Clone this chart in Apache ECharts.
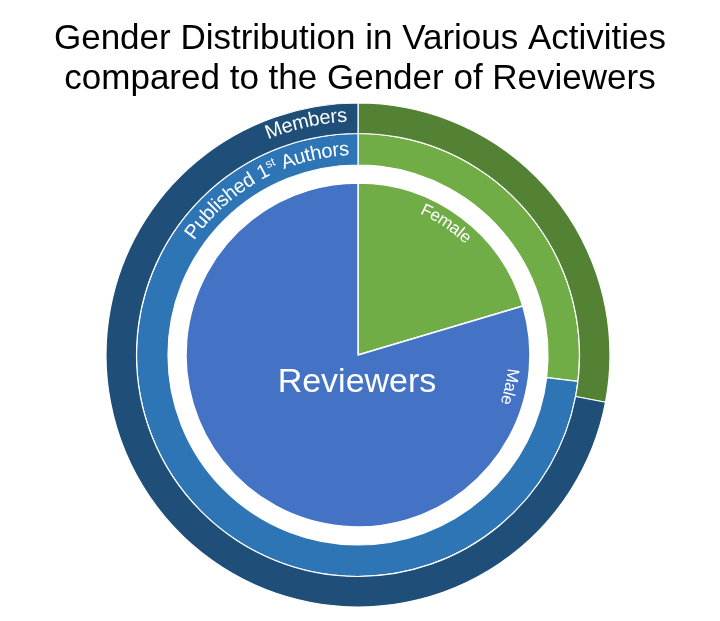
<!DOCTYPE html>
<html><head><meta charset="utf-8">
<script src="https://cdn.jsdelivr.net/npm/echarts@6/dist/echarts.min.js"></script>
<style>html,body{margin:0;padding:0;background:#fff}#c{width:720px;height:621px}</style>
</head><body><div id="c"></div>
<script>
// ---- data ----
const genders = ['Female', 'Male'];
const reviewers = [20.4, 79.6];
const firstAuthors = [26.9, 73.1];
const members = [28.0, 72.0];
const titleLines = ['Gender Distribution in Various Activities', 'compared to the Gender of Reviewers'];
const centerLabel = 'Reviewers';

// ---- styling / layout ----
const FF = 'Arial, "Liberation Sans", sans-serif';
const CX = 358, CY = 355;
const innerColors = ['#70AD47', '#4472C4'];
const midColors = ['#70AD47', '#2E75B6'];
const outerColors = ['#548235', '#1F4E79'];

function mk(vals, colors) {
  return genders.map((g, i) => ({ name: g, value: vals[i], itemStyle: { color: colors[i] } }));
}

const ctx = document.createElement('canvas').getContext('2d');
function arcText(segs, r, anchorDeg, anchor, color) {
  const items = [];
  let total = 0;
  segs.forEach(s => {
    ctx.font = s.size + 'px ' + FF;
    for (const ch of s.t) {
      const w = ctx.measureText(ch).width;
      items.push({ ch, w, size: s.size, dr: s.dr || 0 });
      total += w;
    }
  });
  const totalDeg = total / r * 180 / Math.PI;
  const start = anchor === 'end' ? anchorDeg - totalDeg : anchorDeg - totalDeg / 2;
  let acc = 0;
  return items.map(it => {
    const a = (start + (acc + it.w / 2) / r * 180 / Math.PI) * Math.PI / 180;
    acc += it.w;
    const rr = r + it.dr;
    return {
      type: 'text', x: CX + rr * Math.sin(a), y: CY - rr * Math.cos(a), rotation: -a, silent: true, z: 100,
      style: { text: it.ch, fill: color, fontSize: it.size, fontFamily: FF, align: 'center', verticalAlign: 'middle' }
    };
  });
}

const graphics = [].concat(
  arcText([{ t: 'Members', size: 20 }], 239, -2.6, 'end', '#fff'),
  arcText([{ t: 'Published 1', size: 20 }, { t: 'st', size: 12, dr: 5 }, { t: ' Authors', size: 20 }], 205.5, -2.5, 'end', '#fff'),
  arcText([{ t: 'Female', size: 17 }], 159, 33.8, 'center', '#fff'),
  arcText([{ t: 'Male', size: 17 }], 155, 101.8, 'center', '#fff'),
  [{
    type: 'text', x: 357, y: 383, silent: true, z: 100,
    style: { text: centerLabel, fill: '#fff', fontSize: 34, fontFamily: FF, align: 'center', verticalAlign: 'middle' }
  }]
);

const common = {
  type: 'pie', center: [CX, CY], startAngle: 90, clockwise: true, animation: false,
  label: { show: false }, labelLine: { show: false }, silent: true, z: 1,
  emphasis: { disabled: true }
};

const chart = echarts.init(document.getElementById('c'), null, { renderer: 'canvas' });
chart.setOption({
  backgroundColor: '#fff',
  animation: false,
  title: {
    text: titleLines.join('\n'), left: 'center', top: 14,
    textStyle: { fontSize: 35, fontWeight: 'normal', color: '#000', fontFamily: FF, lineHeight: 40 }
  },
  series: [
    Object.assign({}, common, { name: 'Reviewers', radius: [0, 172], data: mk(reviewers, innerColors),
      itemStyle: { borderColor: '#fff', borderWidth: 1.5 } }),
    Object.assign({}, common, { name: 'Published 1st Authors', radius: [190, 221.5], data: mk(firstAuthors, midColors),
      itemStyle: { borderColor: '#fff', borderWidth: 1.2 } }),
    Object.assign({}, common, { name: 'Members', radius: [221.5, 252], data: mk(members, outerColors),
      itemStyle: { borderColor: '#fff', borderWidth: 1.2 } })
  ],
  graphic: { elements: graphics }
});
</script>
</body></html>
